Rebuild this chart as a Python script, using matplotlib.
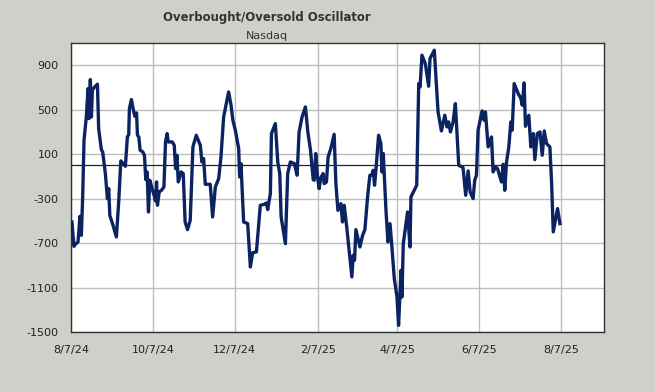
import numpy as np
import pandas as pd
import matplotlib
matplotlib.use("Agg")
import matplotlib.pyplot as plt

# days after 8/7/24 and oscillator value
days = [0.7, 2.2, 3.2, 5.2, 6.7, 7.7, 8.7, 9.7, 11.4, 12.7, 13.4, 14.4, 15.2, 15.9, 17.2, 19.7,
        20.6, 22.6, 23.6, 25.6, 27.1, 28.1, 28.9, 31.3, 33.8, 35.6, 37.1, 38.8, 40.5, 42.0,
        43.0, 43.5, 45.0, 46.5, 47.5, 48.8, 49.5, 50.5, 51.5, 53.5, 54.7, 55.7, 56.7, 57.7,
        58.7, 60.4, 61.9, 62.9, 63.7, 64.4, 65.7, 67.4, 69.2, 70.4, 71.6, 72.4, 75.4, 76.9,
        77.9, 78.9, 79.9, 82.0, 83.6, 85.0, 86.8, 88.8, 90.8,
        93.3, 96.3, 97.5, 98.8, 100.0, 103.7, 105.5, 107.5, 110.0, 111.7, 113.7, 117.4,
        119.2, 120.6, 122.4, 124.9, 125.6, 126.6, 128.6, 131.6, 133.6, 135.3, 138.1, 141.0,
        144.0, 145.5, 146.5, 148.5, 149.3, 152.2, 154.0, 155.5, 156.5, 159.7, 161.4, 163.4,
        166.4, 168.4, 169.9, 172.1, 174.6, 176.4, 178.4, 180.4, 181.1,
        182.3, 183.6, 184.8, 186.1, 187.8, 188.6, 190.3, 191.5, 193.5, 196.0, 197.3, 198.8,
        201.0, 202.2, 203.5, 205.5, 209.2, 210.2, 211.2, 212.2, 215.2, 217.2, 218.9, 220.9,
        222.6, 224.1, 225.1, 226.1, 227.1, 229.1, 230.8, 231.6, 232.6, 234.6, 236.1, 237.6,
        238.8, 240.8, 242.8, 244.0, 245.8, 246.5, 247.5, 250.7, 252.5, 253.2, 257.5, 259.0,
        260.0, 261.4, 263.9, 266.4, 267.4, 270.6,
        273.4, 275.9, 278.4, 280.1, 281.3, 282.6, 284.6, 286.3, 288.8, 292.0, 294.0, 295.8,
        297.3, 299.5, 300.7, 302.0, 303.2, 306.2, 307.7, 308.7, 310.7, 313.2, 314.4, 316.2,
        317.7, 320.6, 321.9, 323.1, 324.4, 326.1, 327.6, 328.6, 330.1, 333.1, 335.1, 336.1,
        337.5, 338.5, 341.0, 342.5, 344.3, 345.5, 347.3, 349.3, 351.0, 352.5, 354.2, 356.7,
        358.0, 359.2, 362.4, 364.2]
osc = [-510, -729, -711, -690, -459, -630, -285, 225, 435, 690, 420, 771, 435, 675, 699, 729,
       330, 141, 120, -75, -300, -210, -450, -540, -645, -315, 39, 15, -9, 255,
       276, 510, 591, 495, 441, 471, 270, 255, 135, 120, 90, -129, -60, -420,
       -135, -210, -270, -321, -150, -360, -240, -225, -195, 210, 285, 210, 210, 180,
       -30, 90, -150, -60, -75, -510, -579, -495, 165,
       270, 180, 30, 60, -171, -171, -465, -195, -120, 75, 435, 660,
       540, 405, 315, 150, -105, 15, -510, -525, -915, -786, -780, -360,
       -351, -339, -399, -255, 285, 375, 30, -75, -465, -705, -75, 30,
       15, -90, 300, 435, 525, 300, 135, -129, -135,
       105, -105, -210, -111, -75, -165, -150, 75, 150, 279, -165, -405,
       -345, -510, -360, -570, -1005, -810, -855, -579, -735, -630, -579, -285,
       -90, -90, -45, -180, -45, 270, 195, -60, 105, -405, -690, -525,
       -699, -1020, -1185, -1440, -945, -1185, -705, -420, -735, -285, -180, 735,
       705, 990, 915, 711, 960, 1035,
       480, 309, 450, 345, 390, 300, 390, 555, 0, -21, -270, -51,
       -240, -300, -135, -90, 315, 489, 405, 480, 165, 255, -60, -15,
       -30, -150, 9, -225, 30, 165, 390, 315, 735, 645, 600, 540,
       741, 351, 450, 165, 285, 51, 285, 300, 90, 309, 195, 165,
       -165, -600, -390, -525]

start = pd.Timestamp("2024-08-07")
dates = start + pd.to_timedelta(days, unit="D")

tick_dates = ["2024-08-07", "2024-10-07", "2024-12-07", "2025-02-07", "2025-04-07", "2025-06-07", "2025-08-07"]
tick_labels = ["8/7/24", "10/7/24", "12/7/24", "2/7/25", "4/7/25", "6/7/25", "8/7/25"]
y_ticks = [-1500, -1100, -700, -300, 100, 500, 900]

bg = "#cdd1c9"
fig = plt.figure(figsize=(6.55, 3.92), dpi=100, facecolor=bg)
ax = fig.add_axes([71 / 655, 60 / 392, 533 / 655, 289 / 392])
ax.set_facecolor("white")

ax.plot(dates, osc, color="#0b2461", lw=2.4, zorder=3)
ax.axhline(0, color="#222222", lw=0.9, zorder=2)

ax.set_ylim(-1500, 1100)
ax.set_xlim(start, pd.Timestamp("2025-09-08"))
ax.set_yticks(y_ticks)
ax.set_yticklabels([str(v) for v in y_ticks])
ax.set_xticks(pd.to_datetime(tick_dates))
ax.set_xticklabels(tick_labels)
ax.grid(True, color="#bdbdbd", lw=1.0, zorder=0)
ax.set_axisbelow(True)
ax.tick_params(length=0, labelsize=8, colors="#222222")
ax.tick_params(axis="y", pad=9)
ax.tick_params(axis="x", pad=9)
for s in ax.spines.values():
    s.set_color("#333333")
    s.set_linewidth(1.0)

fig.text(267 / 655, 1 - 18 / 392, "Overbought/Oversold Oscillator", ha="center", va="center",
         fontsize=8.4, fontweight="bold", color="#333333")
fig.text(267 / 655, 1 - 36 / 392, "Nasdaq", ha="center", va="center", fontsize=8, color="#333333")

fig.savefig("out.png", dpi=100, facecolor=bg)
